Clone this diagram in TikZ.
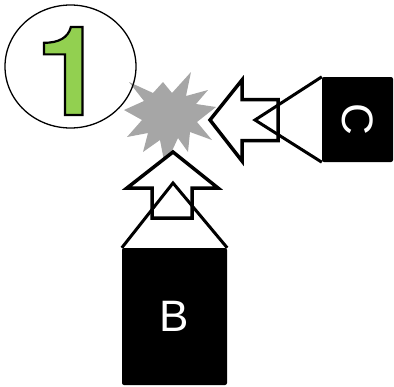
\documentclass[tikz,border=0pt]{standalone}
\usepackage{fontspec}
\setmainfont{Liberation Sans}
\newfontfamily\numfont{texgyreheros-bold.otf}
\definecolor{starGray}{HTML}{A6A6A6}
\definecolor{numGreen}{HTML}{92D050}
\begin{document}
\begin{tikzpicture}[x=1pt,y=-1pt,
  arrowshape/.style={draw=black,fill=white,line width=3.5pt,line join=miter},
  funnel/.style={draw=black,line width=3pt,line join=miter},
  boxnode/.style={fill=black,rounded corners=2pt,text=white,inner sep=0pt,font=\fontsize{44}{44}\selectfont},
  numstyle/.style={font=\numfont\fontsize{124}{124}\selectfont,inner sep=0pt,anchor=base}]
\useasboundingbox (0,0) rectangle (394,386);
% starburst
\fill[starGray] (191,72) -- (186,96) -- (208,90) -- (196,104) -- (216,107) -- (197,122)
  -- (212,140) -- (190,132) -- (188,152) -- (178,138) -- (165,166) -- (160,140)
  -- (143,152) -- (148,133) -- (127,137) -- (142,120) -- (124,110) -- (144,101)
  -- (129,82) -- (153,93) -- (163,82) -- (172,93) -- cycle;
% circle with number
\draw[line width=1.3pt] (70.5,66.5) ellipse[x radius=65.5,y radius=61.5];
\node[numstyle] (one) at (70,115) {\color{numGreen}\special{pdf:literal direct 0 G 2.2 w 2 Tr}1\special{pdf:literal direct 0 Tr}};
% left-pointing arrow (from C)
\draw[arrowshape] (210,120) -- (242,80) -- (242,99.5) -- (278,99.5) -- (278,140.5) -- (242,140.5) -- (242,161) -- cycle;
% up-pointing arrow (from B)
\draw[arrowshape] (173,152) -- (218,188) -- (192,188) -- (192,218) -- (152,218) -- (152,188) -- (127,188) -- cycle;
% boxes
\node[boxnode,minimum width=71pt,minimum height=85pt] (C) at (357.5,119.5) {};
\node[text=white,font=\fontsize{44}{44}\selectfont,rotate=-90] at (C.center) {C};
\node[boxnode,minimum width=105pt,minimum height=137pt] (B) at (174.5,316.5) {B};
% funnels
\draw[funnel] (C.north west) -- (255,120) -- (C.south west);
\draw[funnel] (B.north west) -- (173,183) -- (B.north east);
\end{tikzpicture}
\end{document}
